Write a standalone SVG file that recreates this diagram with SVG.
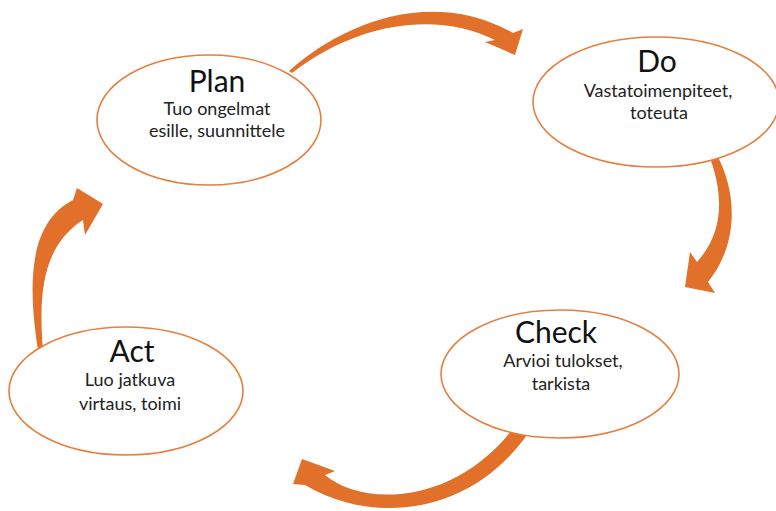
<svg xmlns="http://www.w3.org/2000/svg" width="776" height="511" viewBox="0 0 776 511">
<style>
.arrow{fill:#E0702A;stroke:none}
.node ellipse{fill:#ffffff;stroke:#E57F3E;stroke-width:1.6}
.title{font-family:Lato,"Open Sans","Liberation Sans",sans-serif;font-size:30px;fill:#111;text-anchor:middle}
.body{font-family:Lato,"Open Sans","Liberation Sans",sans-serif;font-size:18px;fill:#222;text-anchor:middle}
</style>
<rect width="776" height="511" fill="#ffffff"/>
<g id="connectors">
<path class="arrow" d="M 289,71 C 340,25 430,-14 513,33 L 523,29 L 515,55 L 485,42 L 495,40 C 440,12 360,20 292,73 Z"/>
<path class="arrow" d="M 717,155 C 738,195 738,245 708,282 L 715,293 L 685,287 L 690,252 L 697,262 C 724,232 724,195 709,155 Z"/>
<path class="arrow" d="M 325,475 C 360,505 450,508 512,430 L 529,432 C 470,518 370,524 305,485 L 293,484 L 302,459 L 335,471 Z"/>
<path class="arrow" d="M 73,200 C 30,222 27,280 38,350 L 43,350 C 38,290 44,245 83,220 L 85,235 L 103,204 L 77,188 Z"/>
</g>
<g id="plan" class="node">
<ellipse cx="209" cy="120" rx="112" ry="65"/>
<text class="title" x="217" y="92">Plan</text>
<text class="body" x="217" y="115">Tuo ongelmat</text>
<text class="body" x="217" y="137">esille, suunnittele</text>
</g>
<g id="do" class="node">
<ellipse cx="656" cy="102" rx="123" ry="65"/>
<text class="title" x="657" y="72">Do</text>
<text class="body" x="658" y="97">Vastatoimenpiteet,</text>
<text class="body" x="659" y="119">toteuta</text>
</g>
<g id="check" class="node">
<ellipse cx="560" cy="374" rx="119" ry="64"/>
<text class="title" x="556" y="343">Check</text>
<text class="body" x="563" y="367">Arvioi tulokset,</text>
<text class="body" x="561" y="390">tarkista</text>
</g>
<g id="act" class="node">
<ellipse cx="126" cy="391" rx="117" ry="64"/>
<text class="title" x="132" y="362">Act</text>
<text class="body" x="130" y="386">Luo jatkuva</text>
<text class="body" x="130" y="410">virtaus, toimi</text>
</g>
</svg>
